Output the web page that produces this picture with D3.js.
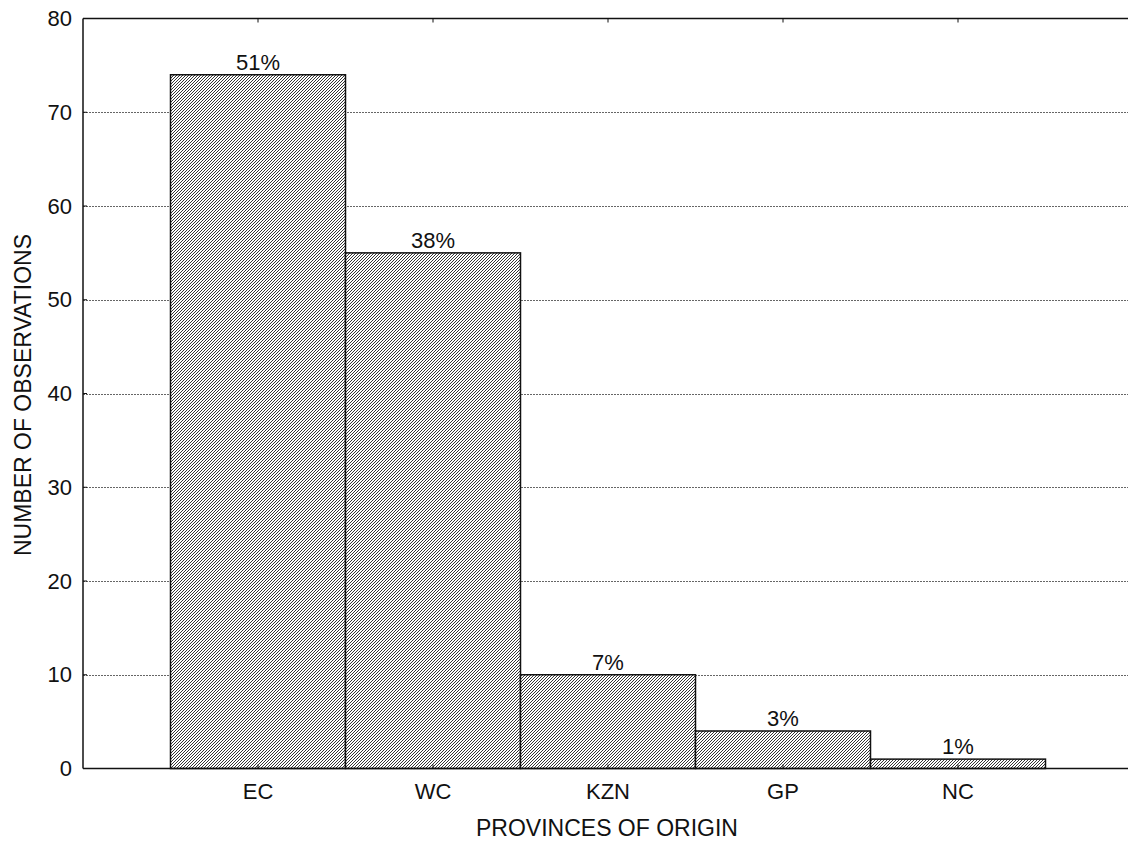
<!DOCTYPE html>
<html><head><meta charset="utf-8">
<script src="https://cdn.jsdelivr.net/npm/d3@7"></script>
<style>body{margin:0;background:#fff}svg{display:block}text{font-family:"Liberation Sans",Arial,sans-serif;fill:#111}</style>
</head><body>
<script>
const categories = ["EC","WC","KZN","GP","NC"];
const counts = [74,55,10,4,1];
const percentLabels = ["51%","38%","7%","3%","1%"];
const yTicks = [0,10,20,30,40,50,60,70,80];
const xTitle = "PROVINCES OF ORIGIN";
const yTitle = "NUMBER OF OBSERVATIONS";

const W=1128,H=842;
const L=83, R=1133, T=18.5, B=768.5;
const svg=d3.select("body").append("svg").attr("width",W).attr("height",H);
const defs=svg.append("defs");
const pat=defs.append("pattern").attr("id","hatch").attr("patternUnits","userSpaceOnUse").attr("width",3).attr("height",3);
pat.append("rect").attr("width",3).attr("height",3).attr("fill","#fff");
pat.append("path").attr("d","M-1,1 l2,-2 M0,3 l3,-3 M2,4 l2,-2").attr("stroke","#2a2a2a").attr("stroke-width",0.95);

const x=d3.scaleBand().domain(categories).range([L,R]).paddingInner(0).paddingOuter(0.5);
const y=d3.scaleLinear().domain([0,80]).range([B,T]);

// gridlines
svg.append("g").selectAll("line").data(yTicks.filter(d=>d>0&&d<80)).join("line")
 .attr("x1",L).attr("x2",W).attr("y1",d=>Math.round(y(d))+0.5).attr("y2",d=>Math.round(y(d))+0.5)
 .attr("stroke","#666").attr("stroke-width",1).attr("stroke-dasharray","2,1");

// bars
svg.append("g").selectAll("rect").data(categories).join("rect")
 .attr("x",d=>x(d)).attr("width",x.bandwidth())
 .attr("y",(d,i)=>y(counts[i])).attr("height",(d,i)=>B-y(counts[i]))
 .attr("fill","url(#hatch)").attr("stroke","#111").attr("stroke-width",1.5);

// percent labels
svg.append("g").selectAll("text").data(categories).join("text")
 .attr("x",d=>x(d)+x.bandwidth()/2).attr("y",(d,i)=>y(counts[i])-5)
 .attr("text-anchor","middle").attr("font-size",22).text((d,i)=>percentLabels[i]);

// frame lines
svg.append("line").attr("x1",L).attr("x2",W).attr("y1",T).attr("y2",T).attr("stroke","#111").attr("stroke-width",1.5);
svg.append("line").attr("x1",L).attr("x2",W).attr("y1",B).attr("y2",B).attr("stroke","#111").attr("stroke-width",1.5);
svg.append("line").attr("x1",L).attr("x2",L).attr("y1",T).attr("y2",B).attr("stroke","#111").attr("stroke-width",1.5);

// x ticks (inward, top and bottom)
const cx=d=>x(d)+x.bandwidth()/2;
svg.append("g").selectAll("line").data(categories).join("line")
 .attr("x1",cx).attr("x2",cx).attr("y1",B).attr("y2",B-4).attr("stroke","#111");
svg.append("g").selectAll("line").data(categories).join("line")
 .attr("x1",cx).attr("x2",cx).attr("y1",T).attr("y2",T+4).attr("stroke","#111");

// y ticks
svg.append("g").selectAll("line").data(yTicks).join("line")
 .attr("x1",L).attr("x2",L+4).attr("y1",d=>y(d)).attr("y2",d=>y(d)).attr("stroke","#111");
svg.append("g").selectAll("text").data(yTicks).join("text")
 .attr("x",72).attr("y",d=>y(d)).attr("dy","0.35em").attr("text-anchor","end").attr("font-size",22).text(d=>d);

// x labels
svg.append("g").selectAll("text").data(categories).join("text")
 .attr("x",cx).attr("y",799).attr("text-anchor","middle").attr("font-size",22).text(d=>d);

// titles
svg.append("text").attr("x",(L+R)/2-1).attr("y",836).attr("text-anchor","middle").attr("font-size",23).text(xTitle);
svg.append("text").attr("transform","translate(31,395) rotate(-90)").attr("text-anchor","middle").attr("font-size",23).text(yTitle);
</script>
</body></html>
